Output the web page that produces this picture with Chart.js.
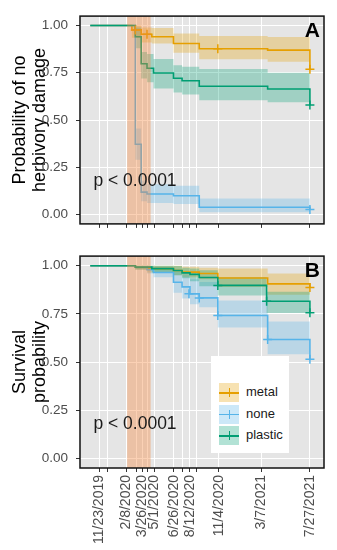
<!DOCTYPE html>
<html>
<head>
<meta charset="utf-8">
<script src="https://cdn.jsdelivr.net/npm/chart.js@4.4.1/dist/chart.umd.min.js"></script>
<style>
    html, body { margin: 0; padding: 0; background: #fff; }
    #wrap { position: relative; width: 337px; height: 550px; font-family: "Liberation Sans", Arial, sans-serif; }
    #boxA { position: absolute; left: 0; top: 0; width: 337px; height: 240px; }
    #boxB { position: absolute; left: 0; top: 240px; width: 337px; height: 310px; }
    #legend { position: absolute; left: 211px; top: 356px; width: 78px; height: 97px; background: #fff; }
    .row { position: absolute; left: 8px; height: 19px; }
    .key { position: absolute; left: 0; top: 0; width: 20px; height: 19px; }
    .key .h { position: absolute; left: 0; right: 0; top: 9px; height: 1.5px; }
    .key .v { position: absolute; left: 9.5px; width: 1.5px; top: 5px; height: 9px; }
    .row span { position: absolute; left: 27px; top: 1px; font-size: 13px; color: #1a1a1a; white-space: nowrap; }
</style>
</head>
<body>
<div id="wrap">
    <div id="boxA"><canvas id="chartA" width="337" height="240"></canvas></div>
    <div id="boxB"><canvas id="chartB" width="337" height="310"></canvas></div>
    <div id="legend"></div>
</div>
<script>
// ---- axis data (days since 11/23/2019) ----
const tickDays = [0, 22, 77, 106, 124, 139, 160, 216, 240, 263, 283, 347, 470, 612];
const labelDays = [0, 77, 124, 160, 216, 263, 347, 470, 612];
const dateLabels = ['11/23/2019', '2/8/2020', '3/26/2020', '5/1/2020', '6/26/2020',
                    '8/12/2020', '11/4/2020', '3/7/2021', '7/27/2021'];
const yTicks = [0, 0.25, 0.5, 0.75, 1];
const shadedPeriod = [80, 149];

const groups = ['metal', 'none', 'plastic'];
const groupColors = ['#E69F00', '#56B4E9', '#009E73'];

// ---- Panel A: probability of no herbivory damage ----
const herbMetalDays  = [-27, 94, 121, 152, 215, 290, 489, 612];
const herbMetalSurv  = [1, 0.977, 0.954, 0.941, 0.905, 0.877, 0.870, 0.769];
const herbMetalUpper = [1, 1.0, 0.99, 0.987, 0.958, 0.945, 0.94, 0.94];
const herbMetalLower = [1, 0.935, 0.91, 0.905, 0.856, 0.822, 0.808, 0.808];
const herbMetalCensorDays = [104, 138, 344, 612];
const herbMetalCensorSurv = [0.977, 0.954, 0.877, 0.769];

const herbNoneDays  = [-27, 104, 121, 138, 215, 290, 612];
const herbNoneSurv  = [1, 0.372, 0.118, 0.108, 0.099, 0.038, 0.026];
const herbNoneUpper = [1, 0.455, 0.18, 0.16, 0.152, 0.085, 0.085];
const herbNoneLower = [1, 0.29, 0.07, 0.06, 0.055, 0.012, 0.012];
const herbNoneCensorDays = [612];
const herbNoneCensorSurv = [0.026];

const herbPlasticDays  = [-27, 104, 121, 138, 157, 215, 240, 290, 489, 612];
const herbPlasticSurv  = [1, 0.941, 0.798, 0.774, 0.749, 0.721, 0.708, 0.679, 0.664, 0.580];
const herbPlasticUpper = [1, 0.99, 0.86, 0.85, 0.823, 0.79, 0.782, 0.77, 0.75, 0.75];
const herbPlasticLower = [1, 0.88, 0.72, 0.70, 0.667, 0.645, 0.635, 0.605, 0.594, 0.594];
const herbPlasticCensorDays = [612];
const herbPlasticCensorSurv = [0.580];

// ---- Panel B: survival probability ----
const survMetalDays  = [-27, 104, 138, 215, 240, 290, 344, 489, 612];
const survMetalSurv  = [1, 0.993, 0.985, 0.975, 0.967, 0.96, 0.936, 0.906, 0.887];
const survMetalUpper = [1, 1, 1, 1, 0.995, 0.99, 0.985, 0.96, 0.96];
const survMetalLower = [1, 0.98, 0.965, 0.95, 0.94, 0.93, 0.89, 0.85, 0.85];
const survMetalCensorDays = [612];
const survMetalCensorSurv = [0.887];

const survNoneDays  = [-27, 104, 138, 157, 215, 240, 263, 290, 344, 489, 612];
const survNoneSurv  = [1, 0.993, 0.98, 0.965, 0.914, 0.89, 0.854, 0.833, 0.742, 0.617, 0.514];
const survNoneUpper = [1, 1, 1, 0.995, 0.97, 0.955, 0.93, 0.915, 0.82, 0.71, 0.71];
const survNoneLower = [1, 0.98, 0.96, 0.94, 0.86, 0.83, 0.80, 0.785, 0.68, 0.54, 0.54];
const survNoneCensorDays = [260, 290, 344, 489, 612];
const survNoneCensorSurv = [0.854, 0.833, 0.742, 0.617, 0.514];

const survPlasticDays  = [-27, 104, 152, 215, 240, 263, 290, 344, 486, 612];
const survPlasticSurv  = [1, 0.993, 0.985, 0.975, 0.963, 0.955, 0.939, 0.898, 0.816, 0.756];
const survPlasticUpper = [1, 1, 1, 0.998, 0.99, 0.985, 0.976, 0.94, 0.865, 0.865];
const survPlasticLower = [1, 0.98, 0.965, 0.95, 0.935, 0.92, 0.894, 0.845, 0.755, 0.755];
const survPlasticCensorDays = [344, 486, 612];
const survPlasticCensorSurv = [0.898, 0.816, 0.756];

const FONT = '"Liberation Sans", Arial, sans-serif';
const THEME = {
    panel: '#E5E5E5',
    grid: '#FFFFFF',
    tick: '#333333',
    tickText: '#4D4D4D',
    band: 'rgba(244,135,60,0.38)'
};

function rgba(hex, a) {
    const n = parseInt(hex.slice(1), 16);
    return `rgba(${n >> 16},${(n >> 8) & 255},${n & 255},${a})`;
}
const pts = (xs, ys) => xs.map((x, i) => ({ x, y: ys[i] }));

// background, border, panel tag and p-value text
const panelPlugin = {
    id: 'panel',
    beforeDraw(chart) {
        const { ctx, chartArea: a } = chart;
        ctx.save();
        ctx.fillStyle = THEME.panel;
        ctx.fillRect(a.left, a.top, a.right - a.left, a.bottom - a.top);
        ctx.restore();
    },
    afterDraw(chart, args, opts) {
        const { ctx, chartArea: a, scales } = chart;
        ctx.save();
        ctx.strokeStyle = '#111';
        ctx.lineWidth = 1.5;
        ctx.strokeRect(a.left, a.top, a.right - a.left, a.bottom - a.top);
        ctx.fillStyle = '#000';
        ctx.font = `bold 21px ${FONT}`;
        ctx.textAlign = 'right';
        ctx.textBaseline = 'top';
        ctx.fillText(opts.tag, a.right - 4, a.top + 5);
        ctx.font = `17.5px ${FONT}`;
        ctx.fillStyle = '#1a1a1a';
        ctx.textAlign = 'left';
        ctx.textBaseline = 'middle';
        ctx.fillText(opts.pText, scales.x.getPixelForValue(-18), scales.y.getPixelForValue(0.175));
        ctx.restore();
    }
};

function buildDatasets(series) {
    const ds = [];
    // shaded period on top of everything
    ds.push({
        data: [{ x: shadedPeriod[0], y: 1.05 }, { x: shadedPeriod[1], y: 1.05 }],
        fill: 'start', backgroundColor: THEME.band, borderWidth: 0, pointRadius: 0, order: 0
    });
    series.forEach((s, k) => {
        const col = groupColors[k];
        ds.push({
            data: pts(s.days, s.upper), stepped: 'before', fill: '+1',
            backgroundColor: rgba(col, 0.3), borderWidth: 0, pointRadius: 0, order: 20 - k
        });
        ds.push({
            data: pts(s.days, s.lower), stepped: 'before', fill: false,
            borderWidth: 0, pointRadius: 0, order: 20 - k
        });
        ds.push({
            label: groups[k], data: pts(s.days, s.surv), stepped: 'before', fill: false,
            borderColor: col, borderWidth: 1.6, pointRadius: 0, order: 10 - k
        });
        ds.push({
            data: pts(s.censorDays, s.censorSurv), showLine: false,
            pointStyle: 'cross', pointRadius: 4.5, pointBorderWidth: 1.5,
            borderColor: col, backgroundColor: col, order: 5 - k
        });
    });
    return ds;
}

function makeChart(id, series, opts) {
    return new Chart(document.getElementById(id), {
        type: 'line',
        data: { datasets: buildDatasets(series) },
        plugins: [panelPlugin],
        options: {
            responsive: false,
            animation: false,
            events: [],
            layout: { padding: { top: opts.padTop, right: 13, left: 0, bottom: 0 } },
            scales: {
                x: {
                    type: 'linear', min: -57, max: 653,
                    afterBuildTicks: s => { s.ticks = tickDays.map(v => ({ value: v })); },
                    afterFit: s => { s.height = opts.xHeight; },
                    border: { display: false },
                    grid: { color: THEME.grid, lineWidth: 1, drawTicks: true, tickLength: 4, tickColor: THEME.tick, tickWidth: 1 },
                    ticks: {
                        display: opts.showDates, autoSkip: false, minRotation: 90, maxRotation: 90, padding: 3,
                        color: THEME.tickText, font: { family: FONT, size: 14 },
                        callback: v => { const i = labelDays.indexOf(v); return i >= 0 ? dateLabels[i] : ''; }
                    }
                },
                y: {
                    min: -0.05, max: 1.05,
                    afterBuildTicks: s => { s.ticks = yTicks.map(v => ({ value: v })); },
                    afterFit: s => { s.width = 80; },
                    border: { display: false },
                    grid: { color: THEME.grid, lineWidth: 1, drawTicks: true, tickLength: 4, tickColor: THEME.tick, tickWidth: 1 },
                    ticks: {
                        padding: 8, color: THEME.tickText, font: { family: FONT, size: 13.5 },
                        callback: v => Number(v).toFixed(2)
                    },
                    title: {
                        display: true, text: opts.yTitle, color: '#000',
                        font: { family: FONT, size: 18, lineHeight: 1.1 },
                        padding: { top: 10, bottom: 0 }
                    }
                }
            },
            plugins: {
                legend: { display: false },
                tooltip: { enabled: false },
                panel: { tag: opts.tag, pText: 'p < 0.0001' }
            }
        }
    });
}

makeChart('chartA', [
    { days: herbMetalDays, surv: herbMetalSurv, upper: herbMetalUpper, lower: herbMetalLower,
      censorDays: herbMetalCensorDays, censorSurv: herbMetalCensorSurv },
    { days: herbNoneDays, surv: herbNoneSurv, upper: herbNoneUpper, lower: herbNoneLower,
      censorDays: herbNoneCensorDays, censorSurv: herbNoneCensorSurv },
    { days: herbPlasticDays, surv: herbPlasticSurv, upper: herbPlasticUpper, lower: herbPlasticLower,
      censorDays: herbPlasticCensorDays, censorSurv: herbPlasticCensorSurv }
], { padTop: 10, xHeight: 7, showDates: false, tag: 'A', yTitle: ['Probability of no', 'herbivory damage'] });

makeChart('chartB', [
    { days: survMetalDays, surv: survMetalSurv, upper: survMetalUpper, lower: survMetalLower,
      censorDays: survMetalCensorDays, censorSurv: survMetalCensorSurv },
    { days: survNoneDays, surv: survNoneSurv, upper: survNoneUpper, lower: survNoneLower,
      censorDays: survNoneCensorDays, censorSurv: survNoneCensorSurv },
    { days: survPlasticDays, surv: survPlasticSurv, upper: survPlasticUpper, lower: survPlasticLower,
      censorDays: survPlasticCensorDays, censorSurv: survPlasticCensorSurv }
], { padTop: 4, xHeight: 82, showDates: true, tag: 'B', yTitle: ['Survival', 'probability'] });

// HTML legend built from the group arrays
const legend = document.getElementById('legend');
groups.forEach((g, k) => {
    const row = document.createElement('div');
    row.className = 'row';
    row.style.top = (27 + k * 21.5) + 'px';
    row.innerHTML = `<div class="key" style="background:${rgba(groupColors[k], 0.3)}">` +
        `<div class="h" style="background:${groupColors[k]}"></div>` +
        `<div class="v" style="background:${groupColors[k]}"></div></div><span>${g}</span>`;
    legend.appendChild(row);
});
</script>
</body>
</html>
